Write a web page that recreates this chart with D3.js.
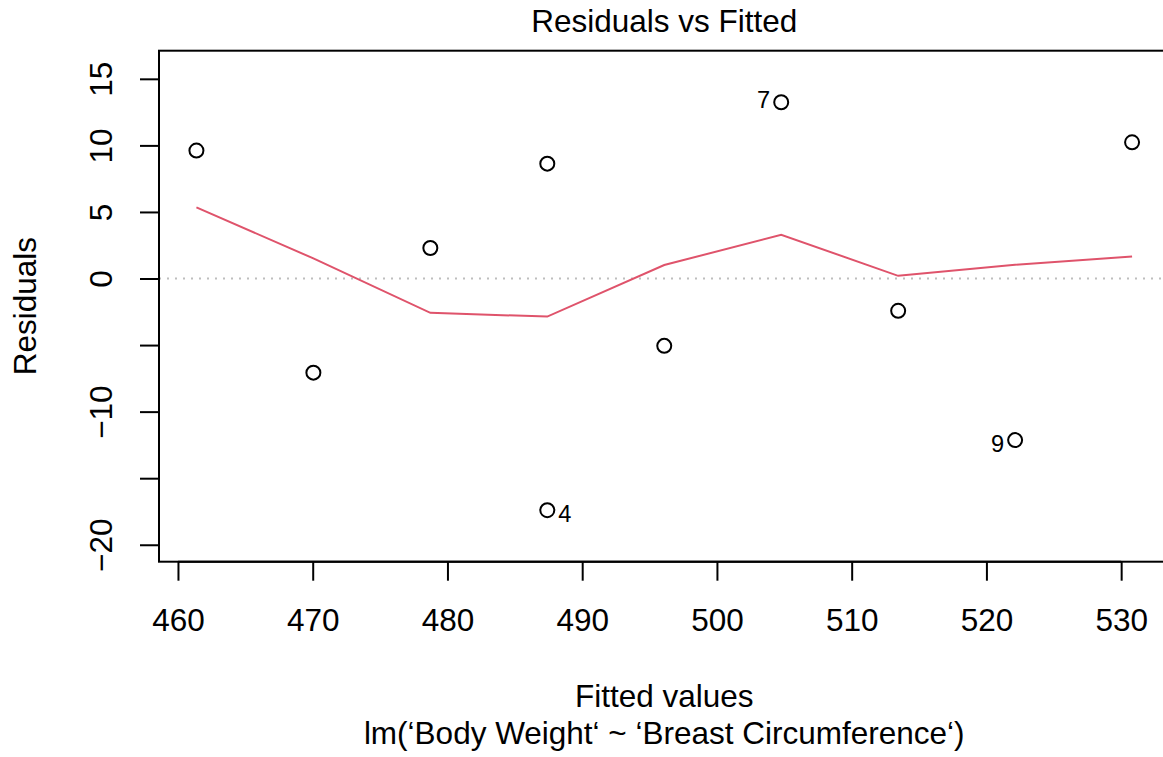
<!DOCTYPE html>
<html>
<head>
<meta charset="utf-8">
<script src="https://cdn.jsdelivr.net/npm/d3@7"></script>
<style>
  body { margin: 0; background: #fff; }
  text { font-family: "Liberation Sans", Arial, Helvetica, sans-serif; fill: #000; }
</style>
</head>
<body>
<script>

// fitted values and residuals of the model, one per observation
var obs = [1, 2, 3, 4, 5, 6, 7, 8, 9, 10]
var fitted = [461.37, 470.05, 478.73, 487.41, 487.41, 496.09, 504.77, 513.45, 522.13, 530.81]
var residuals = [9.61, -7.07, 2.29, -17.40, 8.63, -5.06, 13.24, -2.43, -12.14, 10.23]

// lowess smooth (red line)
var smoothX = [461.37, 470.05, 478.73, 487.41, 496.09, 504.77, 513.45, 522.13, 530.81]
var smoothY = [5.34, 1.51, -2.58, -2.86, 1.01, 3.29, 0.20, 1.03, 1.66]

// ticks, and the y ticks that get a label (R skips the crowded ones)
var xTicks = [460, 470, 480, 490, 500, 510, 520, 530]
var yTicks = [15, 10, 5, 0, -5, -10, -15, -20]
var yTickLabels = [15, 10, 5, 0, -10, -20]

var title = "Residuals vs Fitted"
var xLabel = "Fitted values"
var subLabel = "lm(\u2018Body Weight\u2018 ~ \u2018Breast Circumference\u2018)"
var yLabel = "Residuals"

// set width and height for svg
var w = 1163
var h = 757
var fontSize = 31.5

// plot region (right edge falls outside the picture)
var plotLeft = 159, plotRight = 1169.5, plotTop = 50.7, plotBottom = 561.7

var svg = d3.select("body")
    .append("svg")
    .attr("width", w)
    .attr("height", h)

// limits like R: y range stretched 8% for the labels, then 4% on each side
var yr = d3.extent(residuals)
var ext = (yr[1] - yr[0]) * 0.08
var ylo = yr[0] - ext, yhi = yr[1] + ext
var ypad = (yhi - ylo) * 0.04
var xr = d3.extent(fitted)
var xpad = (xr[1] - xr[0]) * 0.04

var xScale = d3.scaleLinear()
    .domain([xr[0] - xpad, xr[1] + xpad])
    .range([plotLeft, plotRight])

var yScale = d3.scaleLinear()
    .domain([ylo - ypad, yhi + ypad])
    .range([plotBottom, plotTop])

// zero line, gray dotted
svg.append("line")
    .attr("x1", plotLeft).attr("x2", plotRight)
    .attr("y1", yScale(0)).attr("y2", yScale(0))
    .attr("stroke", "#bebebe")
    .attr("stroke-width", 2)
    .attr("stroke-dasharray", "2,6")

// lowess line
var line = d3.line()
    .x(function(d, i) { return xScale(smoothX[i]) })
    .y(function(d) { return yScale(d) })

svg.append("path")
    .attr("d", line(smoothY))
    .attr("fill", "none")
    .attr("stroke", "#DF536B")
    .attr("stroke-width", 2)

// points
svg.selectAll("circle")
    .data(residuals)
    .enter()
    .append("circle")
    .attr("cx", function(d, i) { return xScale(fitted[i]) })
    .attr("cy", function(d) { return yScale(d) })
    .attr("r", 7)
    .attr("fill", "none")
    .attr("stroke", "#000")
    .attr("stroke-width", 2)

// label the 3 largest residuals
var idx = d3.range(residuals.length)
    .sort(function(a, b) { return Math.abs(residuals[b]) - Math.abs(residuals[a]) })
    .slice(0, 3)
var xMid = (xScale.domain()[0] + xScale.domain()[1]) / 2

svg.selectAll("text.id")
    .data(idx)
    .enter()
    .append("text")
    .attr("class", "id")
    .attr("font-size", fontSize * 0.75)
    .attr("text-anchor", function(i) { return fitted[i] > xMid ? "end" : "start" })
    .attr("x", function(i) { return xScale(fitted[i]) + (fitted[i] > xMid ? -11 : 11) })
    .attr("y", function(i) { return yScale(residuals[i]) + 5.5 + (residuals[i] < 0 ? 6 : 0) })
    .text(function(i) { return obs[i] })

// box
svg.append("rect")
    .attr("x", plotLeft).attr("y", plotTop)
    .attr("width", plotRight - plotLeft).attr("height", plotBottom - plotTop)
    .attr("fill", "none")
    .attr("stroke", "#000")
    .attr("stroke-width", 2)

// x-axis
var xAxis = svg.append("g")
    .attr("transform", "translate(0," + plotBottom + ")")
    .call(d3.axisBottom(xScale).tickValues(xTicks).tickSize(19).tickSizeOuter(0).tickPadding(0))
xAxis.select(".domain")
    .attr("d", "M" + xScale(xTicks[0]) + ",0H" + xScale(xTicks[xTicks.length - 1]))
    .attr("stroke-width", 2)
xAxis.selectAll(".tick line").attr("stroke-width", 2)
xAxis.selectAll(".tick text")
    .attr("y", 69)
    .attr("dy", null)
    .attr("font-size", fontSize)
    .attr("font-family", null)

// y-axis, labels turned like R
var yAxis = svg.append("g")
    .attr("transform", "translate(" + plotLeft + ",0)")
    .call(d3.axisLeft(yScale).tickValues(yTicks).tickSize(19).tickSizeOuter(0)
        .tickFormat(function(d) {
          if (yTickLabels.indexOf(d) < 0) return ""
          return d < 0 ? "\u2212" + Math.abs(d) : d
        }))
yAxis.select(".domain")
    .attr("d", "M0," + yScale(yTicks[0]) + "V" + yScale(yTicks[yTicks.length - 1]))
    .attr("stroke-width", 2)
yAxis.selectAll(".tick line").attr("stroke-width", 2)
yAxis.selectAll(".tick text")
    .attr("x", null)
    .attr("dy", null)
    .attr("text-anchor", "middle")
    .attr("transform", "translate(-47.3,0) rotate(-90)")
    .attr("font-size", fontSize)
    .attr("font-family", null)

// title and axis titles
svg.append("text")
    .attr("x", (plotLeft + plotRight) / 2)
    .attr("y", 32)
    .attr("text-anchor", "middle")
    .attr("font-size", fontSize)
    .text(title)

svg.append("text")
    .attr("x", (plotLeft + plotRight) / 2)
    .attr("y", 707)
    .attr("text-anchor", "middle")
    .attr("font-size", fontSize)
    .text(xLabel)

svg.append("text")
    .attr("x", (plotLeft + plotRight) / 2)
    .attr("y", 744)
    .attr("text-anchor", "middle")
    .attr("font-size", fontSize)
    .text(subLabel)

svg.append("text")
    .attr("transform", "translate(36," + (plotTop + plotBottom) / 2 + ") rotate(-90)")
    .attr("text-anchor", "middle")
    .attr("font-size", fontSize)
    .text(yLabel)

</script>
</body>
</html>
